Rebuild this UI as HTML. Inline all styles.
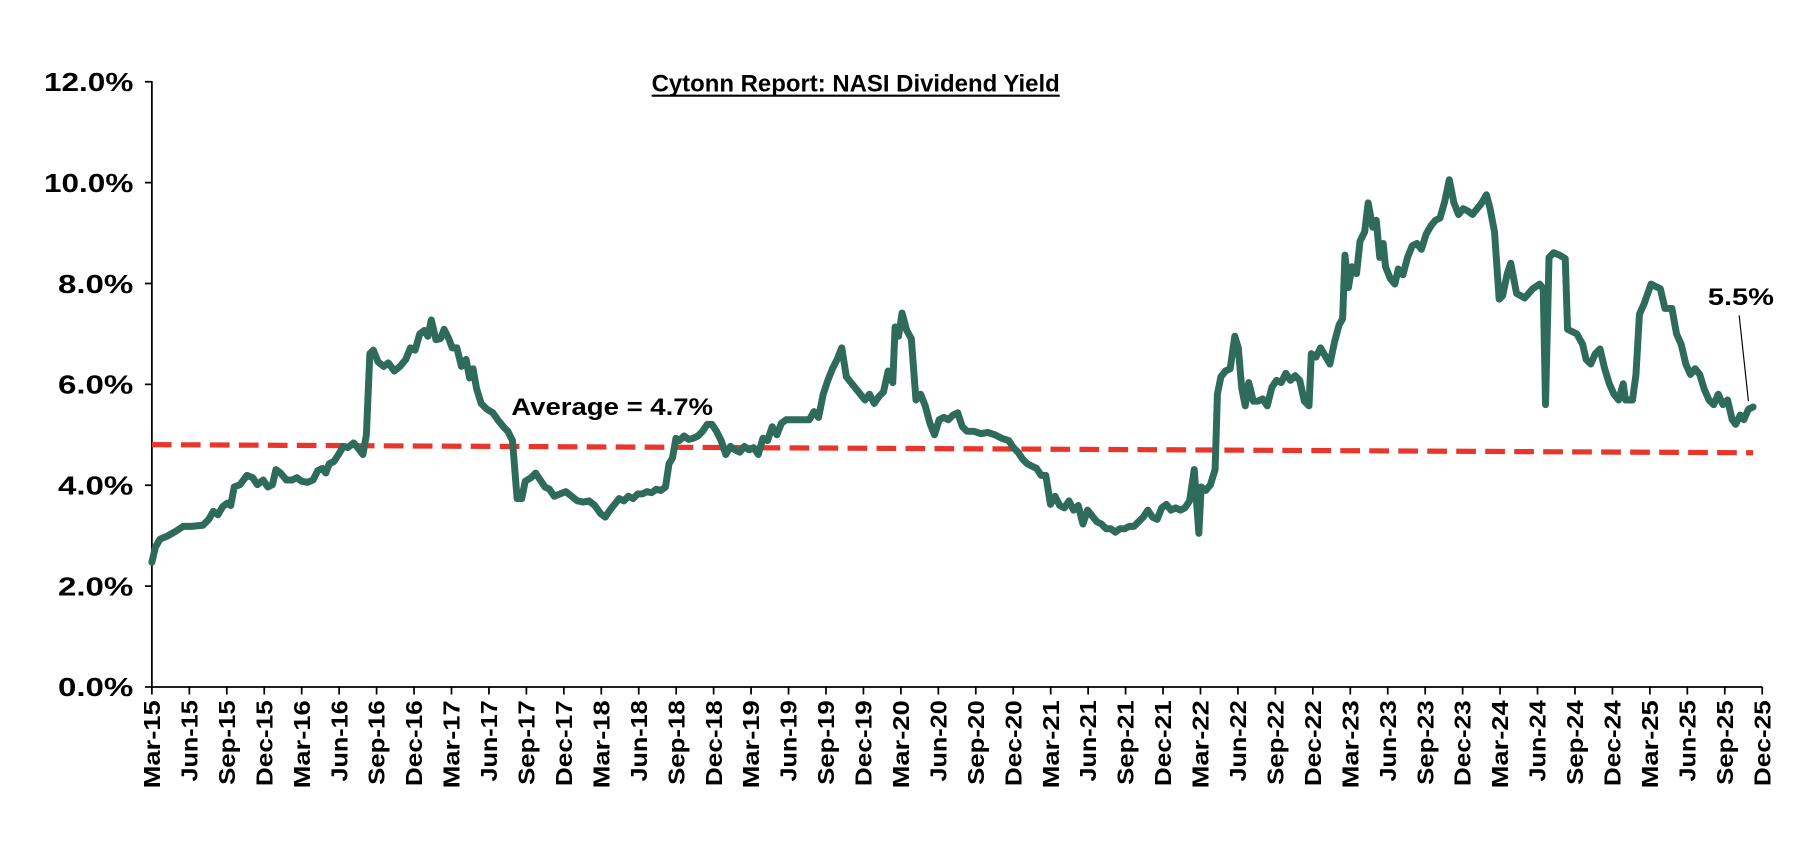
<!DOCTYPE html>
<html><head><meta charset="utf-8"><style>
html,body{margin:0;padding:0;background:#fff;}
svg{display:block;}
text{font-family:"Liberation Sans",Arial,sans-serif;font-weight:bold;fill:#000;}
</style></head><body>
<svg id="s" width="1818" height="858" viewBox="0 0 1568 740" xmlns="http://www.w3.org/2000/svg">
<rect width="1568" height="740" fill="#fff"/>
<text x="562" y="79" font-size="21" textLength="352" lengthAdjust="spacingAndGlyphs">Cytonn Report: NASI Dividend Yield</text>
<line x1="562" y1="82.5" x2="914" y2="82.5" stroke="#000" stroke-width="1.8"/>
<g id="yax"></g>
<g id="xax"></g>
<line x1="131" y1="383.5" x2="1512" y2="390.5" stroke="#e8372a" stroke-width="4.5" stroke-dasharray="17,8"/>
<path id="ser" fill="none" stroke="#2e6b5a" stroke-width="6" stroke-linejoin="round" stroke-linecap="round"/>
<text x="441" y="358" font-size="21" textLength="174" lengthAdjust="spacingAndGlyphs">Average = 4.7%</text>
<text x="1473" y="263" font-size="21" textLength="57" lengthAdjust="spacingAndGlyphs">5.5%</text>
<line x1="1500" y1="272" x2="1508" y2="346" stroke="#000" stroke-width="1"/>
</svg>
<script>
var ns="http://www.w3.org/2000/svg";
function el(t,a,p,txt){var e=document.createElementNS(ns,t);for(var k in a)e.setAttribute(k,a[k]);if(txt)e.textContent=txt;p.appendChild(e);return e;}
var ya=document.getElementById('yax');
el('line',{x1:131,y1:70,x2:131,y2:592.5,stroke:'#000','stroke-width':1.5},ya);
for(var i=0;i<=6;i++){var y=592.5-i*87;
el('line',{x1:125,y1:y,x2:131,y2:y,stroke:'#000','stroke-width':1.5},ya);
var lab=(i*2).toFixed(1)+'%';
el('text',{x:115,y:y+8,'font-size':22,'text-anchor':'end',textLength:(lab.length==5?77:65),lengthAdjust:'spacingAndGlyphs'},ya,lab);}
var xa=document.getElementById('xax');
el('line',{x1:131,y1:592.5,x2:1520,y2:592.5,stroke:'#000','stroke-width':1.5},xa);
var mn=['Mar','Jun','Sep','Dec'];var ln={Mar:76,Jun:70,Sep:73,Dec:74};
for(var i=0;i<=43;i++){var x=131+i*32.3;
el('line',{x1:x,y1:592.5,x2:x,y2:599,stroke:'#000','stroke-width':1.5},xa);
var m=mn[i%4];var yr=15+Math.floor(i/4);var lab=m+'-'+yr;
el('text',{x:0,y:0,'font-size':20,'text-anchor':'end',textLength:ln[m],lengthAdjust:'spacingAndGlyphs',transform:'translate('+(x+7)+',604) rotate(-90)'},xa,lab);}
var p=[[131,485],[134,472],[138,465],[145,462],[152,458],[158,454],[165,454],[175,453],[180,448],[184,441],[188,444],[192,437],[196,434],[199,436],[202,420],[207,418],[213,410],[218,412],[222,418],[227,414],[231,420],[235,418],[238,405],[242,408],[247,414],[252,414],[256,412],[260,415],[265,416],[270,414],[274,406],[278,404],[281,408],[284,400],[288,398],[292,392],[296,385],[300,386],[305,382],[310,388],[313,392],[316,375],[319,305],[322,302],[326,312],[331,316],[335,313],[340,320],[345,316],[350,310],[354,300],[358,302],[362,288],[366,285],[369,290],[372,276],[376,293],[380,292],[383,284],[387,292],[390,300],[394,300],[398,316],[402,310],[405,326],[408,318],[411,335],[415,348],[420,353],[425,356],[430,363],[435,369],[438,372],[442,380],[446,430],[450,430],[453,415],[458,412],[462,408],[466,414],[470,420],[474,422],[478,428],[483,426],[488,424],[493,428],[498,432],[503,433],[508,432],[513,436],[518,443],[522,446],[526,440],[530,435],[534,430],[538,432],[542,428],[546,430],[550,426],[554,426],[558,424],[562,425],[566,422],[570,423],[574,420],[577,400],[580,395],[583,378],[586,380],[590,376],[594,379],[598,378],[602,376],[606,372],[610,366],[614,366],[618,372],[622,380],[626,392],[630,385],[634,388],[638,390],[642,385],[646,388],[650,386],[654,392],[658,378],[662,380],[666,368],[670,375],[674,365],[678,362],[682,362],[686,362],[690,362],[694,362],[698,362],[702,355],[706,360],[710,340],[714,328],[718,318],[722,310],[726,300],[730,325],[734,330],[738,335],[742,340],[746,345],[750,340],[754,348],[758,342],[762,338],[766,320],[770,330],[772,282],[775,290],[778,270],[782,285],[786,292],[790,345],[794,340],[798,350],[802,365],[806,375],[810,362],[814,360],[818,362],[822,358],[826,356],[830,368],[834,372],[840,372],[846,374],[852,373],[858,375],[864,378],[870,380],[874,386],[878,390],[882,396],[886,400],[890,402],[894,404],[898,410],[902,410],[906,435],[910,428],[914,436],[918,438],[922,432],[926,440],[930,436],[934,452],[938,440],[942,445],[946,450],[950,452],[954,456],[958,456],[962,459],[966,456],[970,456],[974,454],[978,454],[982,450],[986,446],[990,440],[994,446],[998,448],[1002,438],[1006,435],[1010,440],[1014,438],[1018,440],[1022,438],[1026,432],[1030,405],[1034,460],[1036,420],[1040,423],[1044,418],[1048,405],[1050,340],[1053,325],[1057,320],[1061,318],[1065,290],[1068,300],[1071,335],[1074,350],[1077,330],[1081,346],[1085,346],[1089,344],[1093,350],[1097,334],[1101,328],[1105,330],[1109,322],[1113,328],[1117,324],[1121,328],[1125,346],[1129,350],[1131,305],[1135,308],[1139,300],[1143,307],[1147,314],[1151,295],[1155,280],[1158,275],[1160,220],[1163,248],[1166,230],[1170,236],[1173,208],[1177,200],[1180,175],[1184,196],[1187,190],[1190,222],[1193,210],[1195,230],[1199,240],[1203,245],[1206,232],[1210,237],[1214,222],[1218,212],[1222,210],[1226,215],[1230,202],[1234,195],[1238,190],[1242,188],[1246,174],[1250,155],[1254,175],[1258,185],[1262,180],[1266,182],[1270,185],[1274,180],[1278,175],[1282,168],[1285,179],[1289,200],[1293,258],[1296,255],[1300,236],[1303,227],[1308,253],[1315,257],[1322,249],[1328,245],[1331,249],[1333,349],[1336,222],[1340,218],[1345,220],[1350,223],[1352,284],[1360,288],[1365,297],[1368,310],[1372,314],[1376,305],[1380,301],[1384,318],[1388,331],[1392,340],[1396,345],[1400,331],[1402,345],[1408,345],[1411,323],[1414,271],[1418,262],[1424,245],[1432,249],[1436,266],[1442,266],[1446,288],[1450,297],[1454,314],[1458,323],[1462,318],[1466,323],[1470,336],[1474,345],[1478,349],[1482,340],[1486,349],[1490,345],[1494,362],[1497,366],[1501,358],[1504,362],[1508,353],[1512,351]];
var d='M'+p.map(function(a){return a[0]+','+a[1];}).join(' L');
document.getElementById('ser').setAttribute('d',d);
</script>
</body></html>
